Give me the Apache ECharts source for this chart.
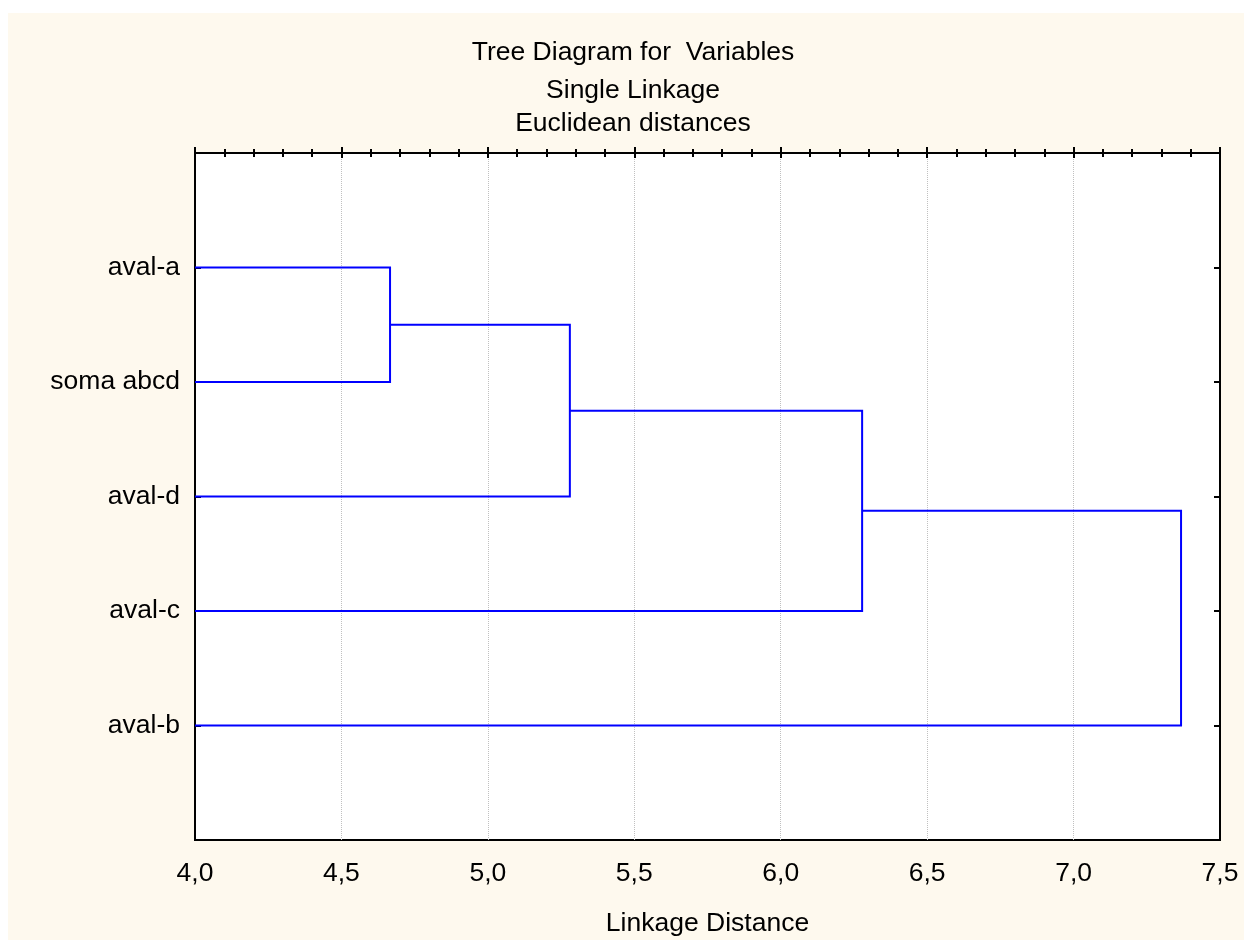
<!DOCTYPE html>
<html>
	<head>
		<meta charset="UTF-8">
		<title></title>
		<script src="https://cdn.jsdelivr.net/npm/echarts@6/dist/echarts.min.js" type="text/javascript" charset="utf-8"></script>
	</head>
	<style type="text/css">
		* {
			margin: 0;
			padding: 0;
		}
		#app {
			width: 1244px;
			height: 940px;
		}
	</style>
	<body>
		<div id="app"></div>
		<script type="text/javascript">
			// leaves, top to bottom
			var leaves = ['aval-a', 'soma abcd', 'aval-d', 'aval-c', 'aval-b'];
			// clusters 0..4 are leaves, merges get 5, 6, 7, 8
			var mergeLeft = [0, 5, 6, 7];
			var mergeRight = [1, 2, 3, 4];
			var mergeDist = [4.666, 5.28, 6.278, 7.367];
			var xTicks = [4.0, 4.5, 5.0, 5.5, 6.0, 6.5, 7.0, 7.5];

			var xMin = 4.0, xMax = 7.5;
			var font = 'Liberation Sans, Arial, sans-serif';
			var fs = 26.5;

			// position and height of every cluster
			var pos = [], height = [];
			for (var i = 0; i < leaves.length; i++) {
				pos.push(i + 1);
				height.push(xMin);
			}
			var links = [];
			for (var k = 0; k < mergeDist.length; k++) {
				var a = mergeLeft[k], b = mergeRight[k];
				links.push([height[a], pos[a], height[b], pos[b], mergeDist[k]]);
				pos.push((pos[a] + pos[b]) / 2);
				height.push(mergeDist[k]);
			}

			var myChart = echarts.init(document.getElementById('app'));

			var titleStyle = { fontFamily: font, fontSize: fs, fontWeight: 'normal', color: '#000' };

			var option = {
				backgroundColor: '#ffffff',
				animation: false,
				graphic: [{
					type: 'rect',
					z: -10,
					shape: { x: 8, y: 13, width: 1236, height: 927 },
					style: { fill: '#fef9ee' }
				}, {
					type: 'rect',
					z: -9,
					shape: { x: 195, y: 153, width: 1025, height: 687 },
					style: { fill: '#ffffff' }
				}],
				title: [{
					text: 'Tree Diagram for  Variables',
					left: 628, top: 34, textAlign: 'center',
					textStyle: titleStyle
				}, {
					text: 'Single Linkage',
					left: 628, top: 72, textAlign: 'center',
					textStyle: titleStyle
				}, {
					text: 'Euclidean distances',
					left: 628, top: 105, textAlign: 'center',
					textStyle: titleStyle
				}],
				grid: {
					left: 195, right: 24, top: 153, bottom: 100,
					outerBoundsMode: 'none',
					show: true, borderColor: '#000', borderWidth: 2
				},
				xAxis: [{
					type: 'value', min: xMin, max: xMax, interval: 0.5,
					position: 'bottom',
					name: 'Linkage Distance', nameLocation: 'middle', nameGap: 70,
					nameTextStyle: { fontFamily: font, fontSize: fs, color: '#000' },
					axisLine: { lineStyle: { color: '#000', width: 2 } },
					axisTick: { inside: true, length: 6, lineStyle: { color: '#000', width: 2 } },
					minorTick: { show: true, splitNumber: 5, length: 4, lineStyle: { color: '#000', width: 2 } },
					axisLabel: {
						margin: 20, fontFamily: font, fontSize: fs, color: '#000',
						formatter: function (v) { return v.toFixed(1).replace('.', ','); }
					},
					splitLine: { show: true, lineStyle: { color: '#c0c0c0', type: 'dotted', width: 1 } }
				}, {
					type: 'value', min: xMin, max: xMax, interval: 0.5,
					position: 'top',
					axisLine: { lineStyle: { color: '#000', width: 2 } },
					axisTick: { inside: true, length: 5, lineStyle: { color: '#000', width: 2 } },
					minorTick: { show: true, splitNumber: 5, length: 4, lineStyle: { color: '#000', width: 2 } },
					axisLabel: { show: false },
					splitLine: { show: false }
				}],
				yAxis: [{
					type: 'value', min: 0, max: 6, interval: 1, inverse: true,
					position: 'left',
					axisLine: { show: true, lineStyle: { color: '#000', width: 2 } },
					axisTick: { show: true, inside: true, length: 6, lineStyle: { color: '#000', width: 2 } },
					axisLabel: {
						margin: 15, fontFamily: font, fontSize: fs, color: '#000',
						formatter: function (v) { return leaves[v - 1] || ''; }
					},
					splitLine: { show: false }
				}, {
					type: 'value', min: 0, max: 6, interval: 1, inverse: true,
					position: 'right',
					axisLine: { show: true, lineStyle: { color: '#000', width: 2 } },
					axisTick: { show: true, inside: true, length: 6, lineStyle: { color: '#000', width: 2 } },
					axisLabel: { show: false },
					splitLine: { show: false }
				}],
				series: [{
					type: 'custom',
					xAxisIndex: 0,
					yAxisIndex: 0,
					clip: false,
					data: links,
					renderItem: function (params, api) {
						var p1 = api.coord([api.value(0), api.value(1)]);
						var p2 = api.coord([api.value(4), api.value(1)]);
						var p3 = api.coord([api.value(4), api.value(3)]);
						var p4 = api.coord([api.value(2), api.value(3)]);
						return {
							type: 'polyline',
							shape: { points: [p1, p2, p3, p4] },
							style: { stroke: '#0000ff', lineWidth: 2, fill: null }
						};
					}
				}]
			};

			myChart.setOption(option);
		</script>
	</body>
</html>
